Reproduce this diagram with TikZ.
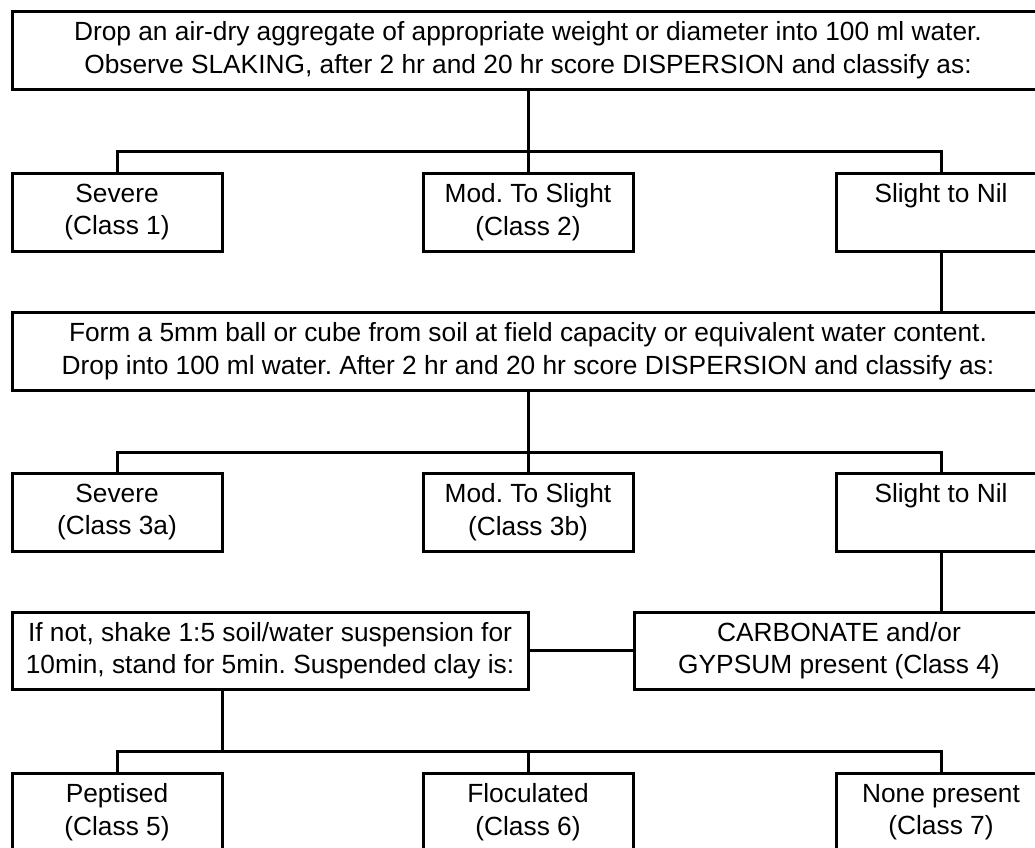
\documentclass[tikz,border=0pt]{standalone}
\usepackage{fontspec}
\setmainfont{Liberation Sans}
\usepackage{tikz}
\usetikzlibrary{positioning}
\frenchspacing

\begin{document}
\begin{tikzpicture}[
      x=1pt, y=-1pt,
      line width=3pt,
      every node/.append style={font=\fontsize{26.3}{32.5}\selectfont},
      box/.style={rectangle, draw, line width=3pt, inner sep=0pt,
                  minimum height=78pt, align=center, fill=white},
      cbox/.style={box, minimum width=210pt},
      wbox/.style={box, minimum width=1032pt},
      hbox/.style={box, minimum height=77pt},
    ]
      \useasboundingbox (0,0) rectangle (1035,847);
      % first test
      \node[wbox] (top) at (528,50) {Drop an air-dry aggregate of appropriate weight or diameter into 100 ml water.\\
        Observe SLAKING, after 2 hr and 20 hr score DISPERSION and classify as:};
      \node[cbox] (sev1) at (117,212) {Severe\\(Class 1)};
      \node[cbox] (mod2) at (528,212) {Mod. To Slight\\(Class 2)};
      \node[cbox] (nil1) at (941,212) {Slight to Nil\\\phantom{(Class)}};
      % second test
      \node[wbox] (form) at (528,351) {Form a 5mm ball or cube from soil at field capacity or equivalent water content.\\
        Drop into 100 ml water. After 2 hr and 20 hr score DISPERSION and classify as:};
      \node[cbox] (sev3a) at (117,512) {Severe\\(Class 3a)};
      \node[cbox] (mod3b) at (528,512) {Mod. To Slight\\(Class 3b)};
      \node[cbox] (nil2) at (941,512) {Slight to Nil\\\phantom{(Class)}};
      % shake test and carbonate
      \node[hbox, minimum width=516pt] (shake) at (270,650.5) {If not, shake 1:5 soil/water suspension for\\
        10min, stand for 5min. Suspended clay is:};
      \node[hbox, minimum width=410pt] (carb) at (839,650.5) {CARBONATE and/or\\GYPSUM present (Class 4)};
      \node[cbox] (pep5) at (117,812) {Peptised\\(Class 5)};
      \node[cbox] (flo6) at (528,812) {Floculated\\(Class 6)};
      \node[cbox] (non7) at (941,812) {None present\\(Class 7)};
      % connectors
      \coordinate (bus1) at (528,151);
      \coordinate (bus2) at (528,452);
      \coordinate (bus3) at (222,751);
      \draw (top.south) -- (mod2.north);
      \draw (sev1.north) |- (bus1) -| (nil1.north);
      \draw (nil1.south) -- (nil1.south |- form.north);
      \draw (form.south) -- (mod3b.north);
      \draw (sev3a.north) |- (bus2) -| (nil2.north);
      \draw (nil2.south) -- (nil2.south |- carb.north);
      \draw (shake.east) -- (carb.west);
      \draw (bus3 |- shake.south) -- (bus3);
      \draw (pep5.north) |- (bus3) -| (non7.north);
      \draw (flo6.north) -- (flo6.north |- bus3);
    \end{tikzpicture}
\end{document}
